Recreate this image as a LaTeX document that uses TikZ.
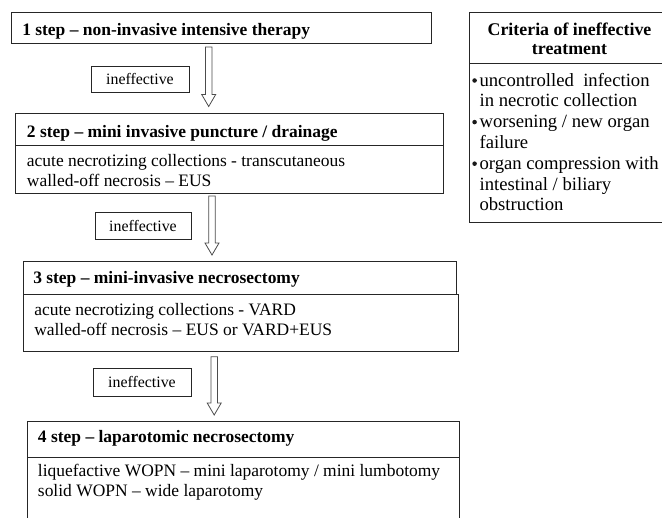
\documentclass[tikz,border=0pt]{standalone}
\usepackage{fontspec}
\setmainfont{Liberation Serif}
\usetikzlibrary{fit,calc}
\newcommand\hollowarrow[2]{%
  \draw[barrow] ($(#1)+(-3.3,0)$) -- ($(#2)+(-3.3,-12)$) -- ($(#2)+(-7,-12)$) -- (#2)
    -- ($(#2)+(7,-12)$) -- ($(#2)+(3.3,-12)$) -- ($(#1)+(3.3,0)$) -- cycle;}
\begin{document}
\begin{tikzpicture}[x=0.75pt,y=-0.75pt,
  boxline/.style={draw=black!85, line width=0.75pt, inner sep=0pt},
  barrow/.style={draw=black!70, line width=0.6pt, fill=white},
  maintxt/.style={font=\fontsize{13.1pt}{15pt}\selectfont, anchor=base west, inner sep=0pt},
  headtxt/.style={font=\fontsize{13.1pt}{15pt}\selectfont\bfseries, anchor=base west, inner sep=0pt},
  crittxt/.style={font=\fontsize{14pt}{16pt}\selectfont, anchor=base west, inner sep=0pt},
  crithead/.style={font=\fontsize{13.4pt}{16pt}\selectfont\bfseries, anchor=base, inner sep=0pt},
  ineftxt/.style={font=\fontsize{11.9pt}{14pt}\selectfont, inner sep=0pt},
  bulletdot/.style={fill=black!90}]
\useasboundingbox (0,0) rectangle (662,518);
\clip (0,0) rectangle (662,518);
% step boxes
\node[boxline, fit={(11,12) (431,43)}] (b1) {};
\node[boxline, fit={(15,113) (443,145)}] (b2h) {};
\node[boxline, fit={(15,145) (443,193)}] (b2b) {};
\node[boxline, fit={(23,261) (456,294)}] (b3h) {};
\node[boxline, fit={(23,294) (458,351)}] (b3b) {};
\node[boxline, fit={(27,421) (459,457)}] (b4h) {};
\node[boxline, fit={(27,457) (459,540)}] (b4b) {};
% criteria box
\node[boxline, fit={(469,12) (675,63)}] (ch) {};
\node[boxline, fit={(469,63) (675,222)}] (cb) {};
% ineffective boxes
\node[boxline, fit={(91,66) (189,92)}] (i1) {};
\node[boxline, fit={(95,212) (191,239)}] (i2) {};
\node[boxline, fit={(93,368) (191,396)}] (i3) {};
\node[ineftxt] (i1t) at (i1) {ineffective};
\node[ineftxt] (i2t) at (i2) {ineffective};
\node[ineftxt] (i3t) at (i3) {ineffective};
% arrows
\coordinate (a1s) at (208.7,47);  \coordinate (a1e) at (208.7,106.5);
\coordinate (a2s) at (212,196);   \coordinate (a2e) at (212,255);
\coordinate (a3s) at (214.2,356.7); \coordinate (a3e) at (214.2,415);
\hollowarrow{a1s}{a1e}
\hollowarrow{a2s}{a2e}
\hollowarrow{a3s}{a3e}
% texts
\node[headtxt] (t1) at (22,35) {1 step – non-invasive intensive therapy};
\node[headtxt] (t2h) at (26.7,137) {2 step – mini invasive puncture / drainage};
\node[maintxt] (t2a) at (26.7,166.7) {acute necrotizing collections - transcutaneous};
\node[maintxt] (t2b) at (26.7,186.7) {walled-off necrosis – EUS};
\node[headtxt] (t3h) at (33,283.3) {3 step – mini-invasive necrosectomy};
\node[maintxt] (t3a) at (34,315) {acute necrotizing collections - VARD};
\node[maintxt] (t3b) at (34,335) {walled-off necrosis – EUS or VARD+EUS};
\node[headtxt] (t4h) at (37.7,442.7) {4 step – laparotomic necrosectomy};
\node[maintxt] (t4a) at (37.7,476) {liquefactive WOPN – mini laparotomy / mini lumbotomy};
\node[maintxt] (t4b) at (37.7,496) {solid WOPN – wide laparotomy};
% criteria texts
\node[crithead] (ch1) at (569.5,35) {Criteria of ineffective};
\node[crithead] (ch2) at (569.5,54) {treatment};
\node[crittxt] (c1) at (479.3,86) {uncontrolled\ \ infection};
\node[crittxt] (c2) at (479.3,106.8) {in necrotic collection};
\node[crittxt] (c3) at (479.3,127.6) {worsening / new organ};
\node[crittxt] (c4) at (479.3,148.4) {failure};
\node[crittxt] (c5) at (479.3,169.2) {organ compression with};
\node[crittxt] (c6) at (479.3,190) {intestinal / biliary};
\node[crittxt] (c7) at (479.3,210.8) {obstruction};
\fill[bulletdot] (474.6,80.5) circle[radius=1.7pt];
\fill[bulletdot] (474.6,122.1) circle[radius=1.7pt];
\fill[bulletdot] (474.6,163.7) circle[radius=1.7pt];
\end{tikzpicture}
\end{document}
